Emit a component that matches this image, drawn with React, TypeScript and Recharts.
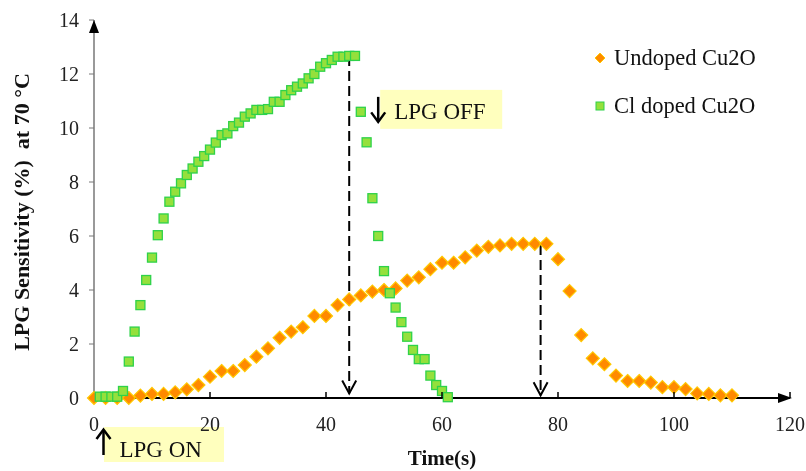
import React from 'react';
import { ScatterChart, Scatter, XAxis, YAxis, ReferenceLine, ReferenceDot, Legend } from 'recharts';

const FONT = '"Liberation Serif", "Times New Roman", serif';

// Undoped Cu2O (orange diamonds), sampled every 2 s
const undopedTime = [
  0, 2, 4, 6, 8, 10, 12, 14, 16, 18, 20, 22, 24, 26, 28, 30, 32, 34, 36, 38,
  40, 42, 44, 46, 48, 50, 52, 54, 56, 58, 60, 62, 64, 66, 68, 70, 72, 74, 76, 78,
  80, 82, 84, 86, 88, 90, 92, 94, 96, 98, 100, 102, 104, 106, 108, 110,
];
const undopedValue = [
  0, 0, 0, 0, 0.09, 0.15, 0.15, 0.21, 0.32, 0.48, 0.79, 1.0, 1.0, 1.22, 1.53, 1.84, 2.23, 2.46, 2.62, 3.04,
  3.04, 3.44, 3.65, 3.8, 3.94, 4.0, 4.06, 4.35, 4.47, 4.77, 5.01, 5.01, 5.21, 5.46, 5.6, 5.65, 5.71, 5.71, 5.71, 5.71,
  5.14, 3.96, 2.33, 1.47, 1.25, 0.83, 0.63, 0.63, 0.57, 0.4, 0.4, 0.33, 0.17, 0.15, 0.1, 0.1,
];

// Cl doped Cu2O (green squares), sampled every 1 s
const clTime = [
  1, 2, 3, 4, 5, 6, 7, 8, 9, 10, 11, 12, 13, 14, 15, 16, 17, 18, 19, 20,
  21, 22, 23, 24, 25, 26, 27, 28, 29, 30, 31, 32, 33, 34, 35, 36, 37, 38, 39, 40,
  41, 42, 43, 44, 45, 46, 47, 48, 49, 50, 51, 52, 53, 54, 55, 56, 57, 58, 59, 60, 61,
];
const clValue = [
  0.05, 0.05, 0.05, 0.05, 0.26, 1.35, 2.46, 3.44, 4.37, 5.2, 6.03, 6.65, 7.27, 7.64, 7.95, 8.26, 8.5, 8.75, 8.96, 9.2,
  9.46, 9.74, 9.8, 10.07, 10.2, 10.42, 10.54, 10.67, 10.67, 10.7, 10.97, 10.97, 11.22, 11.4, 11.53, 11.65, 11.84, 12.0, 12.27, 12.4,
  12.52, 12.64, 12.64, 12.67, 12.67, 10.6, 9.47, 7.4, 6.0, 4.7, 3.88, 3.35, 2.81, 2.27, 1.78, 1.44, 1.44, 0.83, 0.48, 0.26, 0.03,
];

const seriesNames = ['Undoped Cu2O', 'Cl doped Cu2O'];
const xTicks = [0, 20, 40, 60, 80, 100, 120];
const yTicks = [0, 2, 4, 6, 8, 10, 12, 14];

// dashed drop lines: time, top value, arrow tip value
const dropTimes = [44, 77];
const dropTops = [12.67, 5.67];
const dropTips = [0.17, 0.1];

const undopedData = undopedTime.map((t, i) => ({ t, v: undopedValue[i] }));
const clData = clTime.map((t, i) => ({ t, v: clValue[i] }));

const ORANGE = '#FF8A00';
const ORANGE_EDGE = '#FFC800';
const GREEN = '#95E03C';
const GREEN_EDGE = '#2ED24A';
const NOTE_BG = '#FFFFBE';

const Diamond = (p: any) => {
  const { cx, cy } = p;
  const r = 6.5;
  return (
    <polygon
      points={`${cx},${cy - r} ${cx + r},${cy} ${cx},${cy + r} ${cx - r},${cy}`}
      fill={ORANGE}
      stroke={ORANGE_EDGE}
      strokeWidth={1.2}
    />
  );
};

const Square = (p: any) => {
  const { cx, cy } = p;
  return <rect x={cx - 4.5} y={cy - 4.5} width={9} height={9} fill={GREEN} stroke={GREEN_EDGE} strokeWidth={1.3} />;
};

const XTick = (p: any) => {
  const { x, y, payload } = p;
  return (
    <g>
      {payload.value !== 0 && <line x1={x} x2={x} y1={y - 19} y2={y - 25} stroke="#000" strokeWidth={1.5} />}
      <text x={x} y={y + 14} textAnchor="middle" fontSize={20} fontFamily={FONT} fill="#222">
        {payload.value}
      </text>
    </g>
  );
};

const YTitle = (p: any) => {
  const { x, y, height } = p.viewBox;
  const cx = x + 29;
  const cy = y + height / 2 + 3;
  return (
    <text
      x={cx}
      y={cy}
      transform={`rotate(-90 ${cx} ${cy})`}
      textAnchor="middle"
      fontSize={22}
      fontWeight="bold"
      fontFamily={FONT}
      fill="#111"
      style={{ whiteSpace: 'pre' }}
    >
      LPG Sensitivity (%)  at 70 °C
    </text>
  );
};

const XTitle = (p: any) => {
  const { x, y, width } = p.viewBox;
  return (
    <text x={x + width / 2} y={y + 67} textAnchor="middle" fontSize={21} fontWeight="bold" fontFamily={FONT} fill="#111">
      Time(s)
    </text>
  );
};

const DropArrow = (p: any) => {
  const { cx, cy } = p;
  return (
    <polyline
      points={`${cx - 7},${cy - 13} ${cx},${cy} ${cx + 7},${cy - 13}`}
      fill="none"
      stroke="#000"
      strokeWidth={2}
    />
  );
};

const XArrow = (p: any) => {
  const { cx, cy } = p;
  return <polygon points={`${cx + 2},${cy} ${cx - 12},${cy - 5} ${cx - 12},${cy + 5}`} fill="#000" />;
};

const YArrow = (p: any) => {
  const { cx, cy } = p;
  return <polygon points={`${cx},${cy} ${cx - 5},${cy + 13} ${cx + 5},${cy + 13}`} fill="#000" />;
};

const OffNote = (p: any) => {
  const { cx, cy } = p;
  return (
    <g>
      <rect x={cx + 2} y={cy - 19.5} width={122} height={39} fill={NOTE_BG} />
      <text x={cx + 16} y={cy + 9.5} fontSize={23} fontFamily={FONT} fill="#111">
        LPG OFF
      </text>
      <line x1={cx} y1={cy - 12.5} x2={cx} y2={cy + 11} stroke="#000" strokeWidth={2.5} />
      <polyline points={`${cx - 7},${cy + 3} ${cx},${cy + 12.5} ${cx + 7},${cy + 3}`} fill="none" stroke="#000" strokeWidth={2.5} />
    </g>
  );
};

const OnNote = (p: any) => {
  const { cx, cy } = p;
  return (
    <g>
      <rect x={cx + 10} y={cy + 29} width={120} height={35} fill={NOTE_BG} style={{ mixBlendMode: 'multiply' }} />
      <text x={cx + 25.5} y={cy + 58.5} fontSize={23} fontFamily={FONT} fill="#111">
        LPG ON
      </text>
      <line x1={cx + 9.5} y1={cy + 33} x2={cx + 9.5} y2={cy + 57} stroke="#000" strokeWidth={2.5} />
      <polyline
        points={`${cx + 2.5},${cy + 41} ${cx + 9.5},${cy + 31.5} ${cx + 16.5},${cy + 41}`}
        fill="none"
        stroke="#000"
        strokeWidth={2.5}
      />
    </g>
  );
};

const LegendContent = () => (
  <div style={{ fontFamily: FONT, fontSize: 22.5, color: '#111' }}>
    {seriesNames.map((name, i) => (
      <div key={name} style={{ height: 48, display: 'flex', alignItems: 'center' }}>
        <svg width={20} height={20} style={{ marginRight: 0 }}>
          {i === 0 ? (
            <polygon points="6,5 11,10 6,15 1,10" fill={ORANGE} stroke={ORANGE_EDGE} strokeWidth={1} />
          ) : (
            <rect x={2} y={6} width={8} height={8} fill={GREEN} stroke={GREEN_EDGE} strokeWidth={1} />
          )}
        </svg>
        <span>{name}</span>
      </div>
    ))}
  </div>
);

export default function App() {
  return (
    <div style={{ position: 'absolute', left: 0, top: 0, width: 806, height: 471, background: '#fff' }}>
      <ScatterChart width={806} height={471} margin={{ top: 20, right: 16, left: 0, bottom: 0 }}>
        <XAxis
          type="number"
          dataKey="t"
          domain={[0, 120]}
          ticks={xTicks}
          height={73}
          tickSize={0}
          tickMargin={19}
          tickLine={false}
          axisLine={{ stroke: '#000', strokeWidth: 2 }}
          tick={<XTick />}
          label={<XTitle />}
        />
        <YAxis
          type="number"
          dataKey="v"
          domain={[0, 14]}
          ticks={yTicks}
          width={94}
          tickSize={5}
          tickMargin={10}
          tickLine={{ stroke: '#777' }}
          axisLine={{ stroke: '#777', strokeWidth: 1.5 }}
          tick={{ fontSize: 20, fontFamily: FONT, fill: '#222' }}
          label={<YTitle />}
        />
        <Legend
          layout="vertical"
          align="center"
          verticalAlign="middle"
          content={<LegendContent />}
          wrapperStyle={{ position: 'absolute', top: 34, left: 594, width: 210 }}
        />
        <Scatter name={seriesNames[0]} data={undopedData} shape={<Diamond />} isAnimationActive={false} />
        <Scatter name={seriesNames[1]} data={clData} shape={<Square />} isAnimationActive={false} />
        {dropTimes.map((t, i) => (
          <ReferenceLine
            key={`drop-${t}`}
            segment={[
              { x: t, y: dropTops[i] },
              { x: t, y: dropTips[i] },
            ]}
            stroke="#000"
            strokeWidth={2}
            strokeDasharray="10 5"
          />
        ))}
        {dropTimes.map((t, i) => (
          <ReferenceDot key={`tip-${t}`} x={t} y={dropTips[i]} r={0} shape={<DropArrow />} ifOverflow="visible" />
        ))}
        <ReferenceDot x={120} y={0} r={0} shape={<XArrow />} ifOverflow="visible" />
        <ReferenceDot x={0} y={14} r={0} shape={<YArrow />} ifOverflow="visible" />
        <ReferenceDot x={49} y={10.69} r={0} shape={<OffNote />} ifOverflow="visible" />
        <ReferenceDot x={0} y={0} r={0} shape={<OnNote />} ifOverflow="visible" />
      </ScatterChart>
    </div>
  );
}
